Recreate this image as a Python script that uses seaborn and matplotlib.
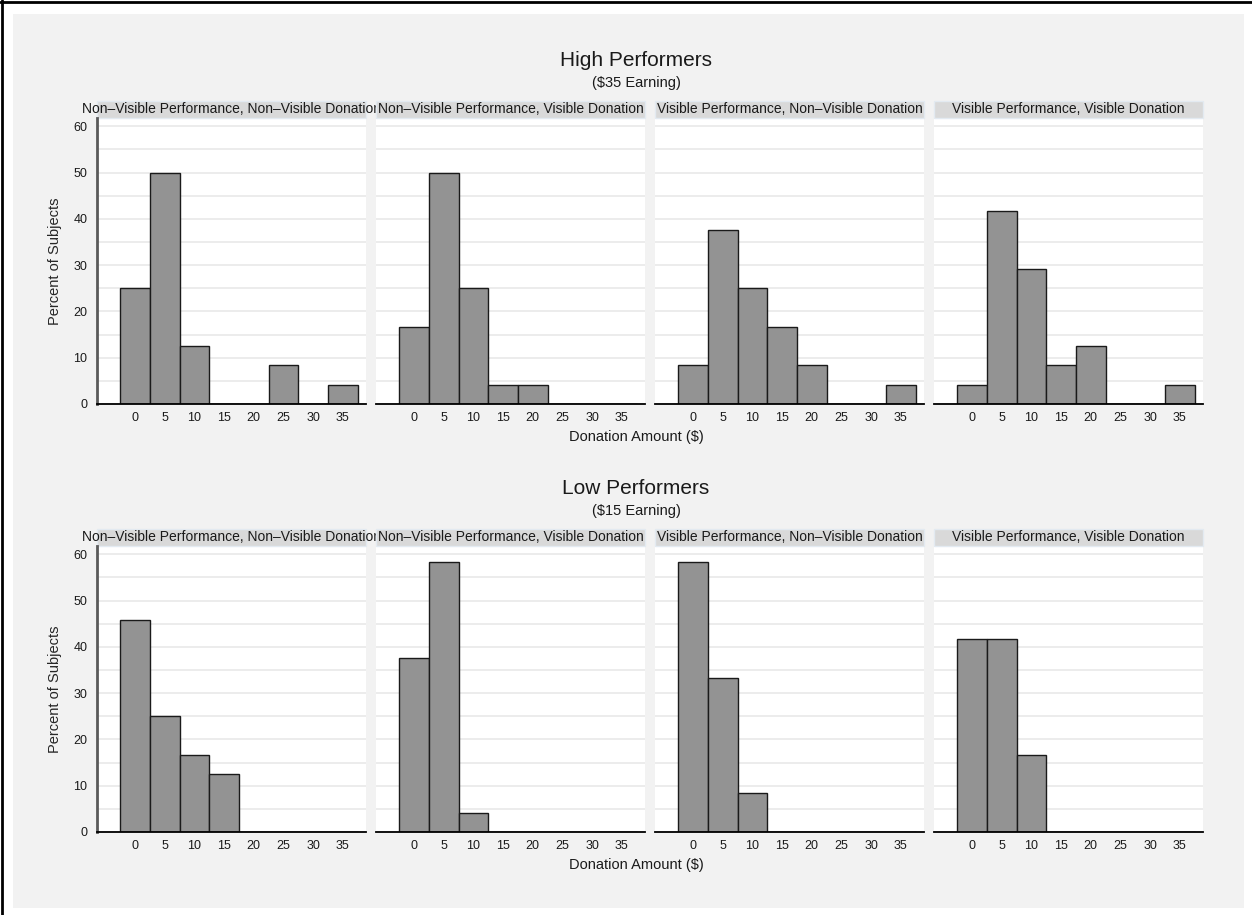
import numpy as np
import pandas as pd
import seaborn as sns

import matplotlib.pyplot as plt
from matplotlib.patches import Rectangle
from matplotlib.lines import Line2D

# donation amounts ($), bins of width 5 centred on these
amounts = [0, 5, 10, 15, 20, 25, 30, 35]

panels = ["Non\u2013Visible Performance, Non\u2013Visible Donation",
          "Non\u2013Visible Performance, Visible Donation",
          "Visible Performance, Non\u2013Visible Donation",
          "Visible Performance, Visible Donation"]

# percent of subjects, high performers ($35 earning)
high_nvp_nvd = [25.0, 50.0, 12.5, 0, 0, 8.33, 0, 4.17]
high_nvp_vd = [16.67, 50.0, 25.0, 4.17, 4.17, 0, 0, 0]
high_vp_nvd = [8.33, 37.5, 25.0, 16.67, 8.33, 0, 0, 4.17]
high_vp_vd = [4.17, 41.67, 29.17, 8.33, 12.5, 0, 0, 4.17]

# percent of subjects, low performers ($15 earning)
low_nvp_nvd = [45.83, 25.0, 16.67, 12.5, 0, 0, 0, 0]
low_nvp_vd = [37.5, 58.33, 4.17, 0, 0, 0, 0, 0]
low_vp_nvd = [58.33, 33.33, 8.33, 0, 0, 0, 0, 0]
low_vp_vd = [41.67, 41.67, 16.67, 0, 0, 0, 0, 0]

rows = [("High Performers", "($35 Earning)",
         [high_nvp_nvd, high_nvp_vd, high_vp_nvd, high_vp_vd]),
        ("Low Performers", "($15 Earning)",
         [low_nvp_nvd, low_nvp_vd, low_vp_nvd, low_vp_vd])]

recs = []
for title, sub, series in rows:
    for name, vals in zip(panels, series):
        for a, v in zip(amounts, vals):
            recs.append({'group': title, 'panel': name, 'amount': a, 'pct': v})
data = pd.DataFrame(recs)

sns.set_style('white')
plt.rcParams['font.family'] = ['Liberation Sans', 'DejaVu Sans']
plt.rcParams['text.color'] = '#1a1a1a'

W, H = 1252, 915
fig = plt.figure(figsize=(W / 100, H / 100), dpi=100)
fig.patch.set_facecolor('white')

# light gray plot region and the frame lines
fig.add_artist(Rectangle((13 / W, 1 - 908 / H), (1244 - 13) / W, (908 - 14) / H,
                         transform=fig.transFigure, facecolor='#f2f2f2',
                         edgecolor='none', zorder=-10))
fig.add_artist(Line2D([0, 1], [1 - 2 / H, 1 - 2 / H], color='black', lw=2))
fig.add_artist(Line2D([2 / W, 2 / W], [0, 1], color='black', lw=2))

lefts = [97, 376, 655, 934]
pw, ph = 269, 286
tops = [118, 546]

for r, (title, sub, series) in enumerate(rows):
    y_top = tops[r]
    for c, name in enumerate(panels):
        ax = fig.add_axes([lefts[c] / W, 1 - (y_top + ph) / H, pw / W, ph / H])
        d = data[(data.group == title) & (data.panel == name)]
        sns.histplot(data=d, x='amount', weights='pct', binwidth=5, binrange=(-2.5, 37.5),
                     color='#939393', edgecolor='#1a1a1a', linewidth=1, alpha=1, ax=ax)
        ax.set_xlim(-6.4, 38.9)
        ax.set_ylim(0, 61.8)
        ax.set_xticks(amounts)
        ax.set_yticks(np.arange(0, 61, 10))
        ax.set_yticks(np.arange(5, 60, 10), minor=True)
        ax.grid(which='both', axis='y', color='#ebebeb', lw=1.3)
        ax.set_axisbelow(True)
        ax.set_xlabel('')
        ax.set_ylabel('')
        ax.spines['top'].set_visible(False)
        ax.spines['right'].set_visible(False)
        ax.spines['bottom'].set_color('black')
        ax.spines['bottom'].set_linewidth(1.3)
        ax.tick_params(axis='x', length=4, width=1, color='#333333',
                       labelsize=9, pad=2, labelcolor='#1a1a1a')
        if c == 0:
            ax.spines['left'].set_color('#5a5a5a')
            ax.spines['left'].set_linewidth(2)
            ax.tick_params(axis='y', which='major', length=5, width=1, color='#333333',
                           labelsize=9, pad=2, labelcolor='#1a1a1a')
            ax.tick_params(axis='y', which='minor', length=2.5, width=1, color='#333333')
            ax.set_ylabel('Percent of Subjects', fontsize=10.5)
            ax.yaxis.set_label_coords((62 - 97) / pw, 0.5)
        else:
            ax.spines['left'].set_visible(False)
            ax.tick_params(axis='y', which='both', left=False, labelleft=False)

        # facet header strip
        sh = 17.5 / ph
        ax.add_patch(Rectangle((0, 1), 1, sh, transform=ax.transAxes, clip_on=False,
                               facecolor='#d9d9d9', edgecolor='#e3eaf1', lw=1))
        ax.text(0.5, 1 + sh / 2, name, transform=ax.transAxes, ha='center',
                va='center', fontsize=10, clip_on=False)

    fig.text(636 / W, 1 - (y_top - 58) / H, title, ha='center', va='center', fontsize=15)
    fig.text(636 / W, 1 - (y_top - 35) / H, sub, ha='center', va='center', fontsize=10.5)
    fig.text(636 / W, 1 - (y_top + ph + 33) / H, 'Donation Amount ($)',
             ha='center', va='center', fontsize=10.5)

fig.savefig('out.png', dpi=100)
